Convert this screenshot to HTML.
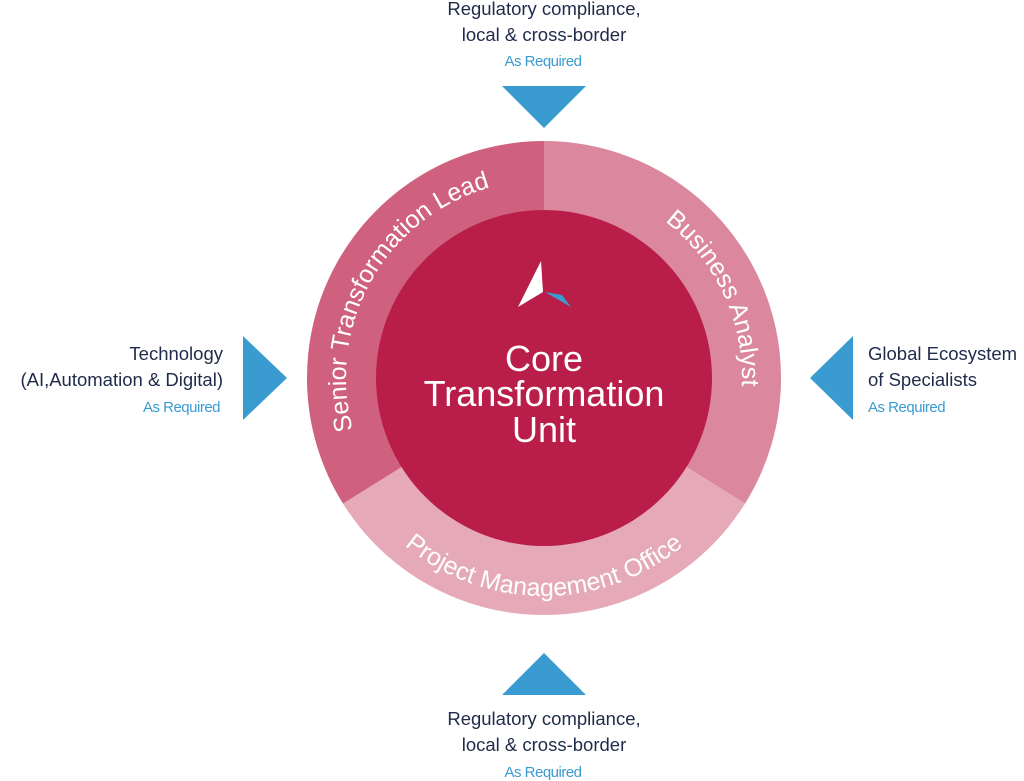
<!DOCTYPE html>
<html><head><meta charset="utf-8"><style>
html,body{margin:0;padding:0;background:#fff;}
svg{display:block;}
text{font-family:"Liberation Sans",sans-serif;}
.d{fill:#1f2b4a;font-size:18.5px;}
.b{fill:#3a9bd0;font-size:15px;letter-spacing:-0.5px;}
.r{fill:#fff;font-size:25px;}
</style></head><body>
<svg width="1024" height="781" viewBox="0 0 1024 781" xmlns="http://www.w3.org/2000/svg">
<defs>
<path id="pS" d="M 372.5 477.0 A 198 198 0 0 1 540.5 180.0"/>
<path id="pB" d="M 561.3 180.8 A 198 198 0 0 1 706.2 491.6"/>
<path id="pP" d="M 355.2 487.0 A 218 218 0 0 0 732.8 487.0"/>
</defs>
<path d="M544 378 L544 141 A237 237 0 0 1 745 503.6 Z" fill="#db889e"/>
<path d="M544 378 L745 503.6 A237 237 0 0 1 343 503.6 Z" fill="#e5a9b8"/>
<path d="M544 378 L343 503.6 A237 237 0 0 1 544 141 Z" fill="#cf617f"/>
<circle cx="544" cy="378" r="168" fill="#b81e48"/>
<polygon points="541,261 518,307 543,292" fill="#fff"/>
<polygon points="545,292 562,295 571,307" fill="#3a9bd0"/>
<text x="544" y="371" text-anchor="middle" fill="#fff" font-size="36">Core</text>
<text x="544" y="406" text-anchor="middle" fill="#fff" font-size="36">Transformation</text>
<text x="544" y="442" text-anchor="middle" fill="#fff" font-size="36">Unit</text>
<text class="r"><textPath href="#pS" startOffset="50%" text-anchor="middle">Senior Transformation Lead</textPath></text>
<text class="r"><textPath href="#pB" startOffset="50%" text-anchor="middle">Business Analyst</textPath></text>
<text class="r"><textPath href="#pP" startOffset="50%" text-anchor="middle">Project Management Office</textPath></text>
<polygon points="502,86 586,86 544,128" fill="#3a9bd0"/>
<polygon points="502,695 586,695 544,653" fill="#3a9bd0"/>
<polygon points="243,336 243,420 287,378" fill="#3a9bd0"/>
<polygon points="853,336 853,420 810,378" fill="#3a9bd0"/>
<text class="d" x="544" y="15" text-anchor="middle">Regulatory compliance,</text>
<text class="d" x="544" y="41" text-anchor="middle">local &amp; cross-border</text>
<text class="b" x="543" y="66" text-anchor="middle">As Required</text>
<text class="d" x="544" y="725" text-anchor="middle">Regulatory compliance,</text>
<text class="d" x="544" y="751" text-anchor="middle">local &amp; cross-border</text>
<text class="b" x="543" y="777" text-anchor="middle">As Required</text>
<text class="d" x="223" y="360" text-anchor="end">Technology</text>
<text class="d" x="223" y="386" text-anchor="end">(AI,Automation &amp; Digital)</text>
<text class="b" x="220" y="412" text-anchor="end">As Required</text>
<text class="d" x="868" y="360">Global Ecosystem</text>
<text class="d" x="868" y="386">of Specialists</text>
<text class="b" x="868" y="412">As Required</text>
</svg>
</body></html>
